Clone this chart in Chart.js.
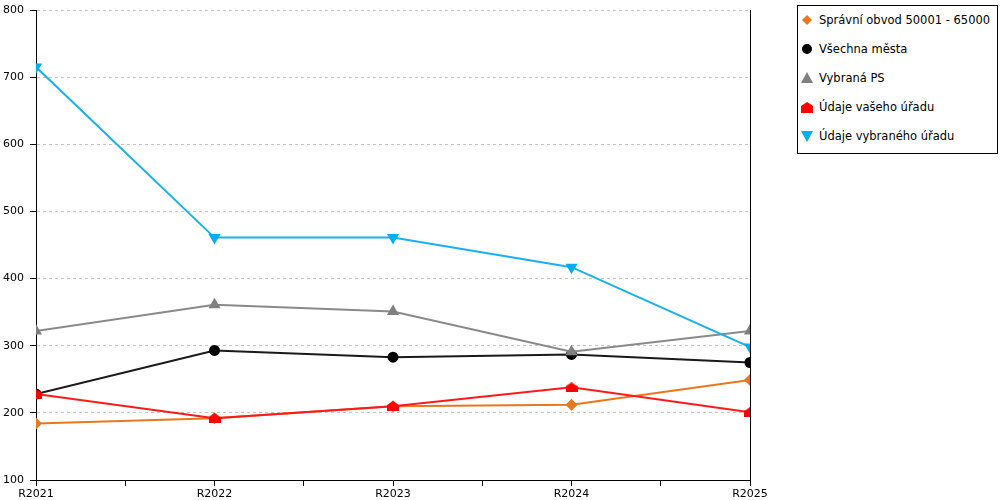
<!DOCTYPE html>
<html>
<head>
<meta charset="utf-8">
<script src="https://cdn.jsdelivr.net/npm/chart.js@4/dist/chart.umd.min.js"></script>
<style>
  body { margin: 0; background: #fff; font-family: "DejaVu Sans", Verdana, sans-serif; }
  #wrap { position: relative; width: 1000px; height: 500px; }
  #legend {
    position: absolute; left: 797px; top: 5px; width: 201px; height: 149px;
    border: 1px solid #000; box-sizing: border-box; background: #fff;
  }
  .item { position: absolute; left: 2px; height: 16px; display: flex; align-items: center;
          font-size: 11.5px; color: #000; white-space: nowrap; }
  .item svg { width: 14px; height: 14px; margin-right: 5px; }
</style>
</head>
<body>
<div id="wrap">
  <canvas id="lineChart"></canvas>
  <div id="legend"></div>
</div>
<script>
// ---- data ----
const categories = ['R2021', 'R2022', 'R2023', 'R2024', 'R2025'];
const seriesNames = ['Správní obvod 50001 - 65000', 'Všechna města', 'Vybraná PS', 'Údaje vašeho úřadu', 'Údaje vybraného úřadu'];
const obvodValues = [184, 192, 210, 212, 249];
const mestaValues = [228, 293, 283, 287, 275];
const psValues = [322, 361, 351, 291, 322];
const vasUradValues = [228, 192, 210, 238, 201];
const vybranyUradValues = [715, 461, 461, 417, 298];
const yTicks = [100, 200, 300, 400, 500, 600, 700, 800];

// ---- house marker (Údaje vašeho úřadu) ----
function houseMarker(color) {
  const c = document.createElement('canvas');
  c.width = 12; c.height = 10;
  const g = c.getContext('2d');
  g.fillStyle = color;
  g.beginPath();
  g.moveTo(6, 0); g.lineTo(12, 4); g.lineTo(12, 10); g.lineTo(0, 10); g.lineTo(0, 4);
  g.closePath(); g.fill();
  return c;
}

const styles = [
  { color: '#E8771E', point: 'rectRot', radius: 6, rot: 0 },
  { color: '#000000', point: 'circle', radius: 5.5, rot: 0 },
  { color: '#808080', point: 'triangle', radius: 7, rot: 0 },
  { color: '#FF0000', point: houseMarker('#FF0000'), radius: 6, rot: 0 },
  { color: '#00AEEF', point: 'triangle', radius: 7, rot: 180 },
];
const lineColors = ['#E8771E', '#1a1a1a', '#8a8a8a', '#FF1a1a', '#1AB0EC'];
const allValues = [obvodValues, mestaValues, psValues, vasUradValues, vybranyUradValues];

const datasets = allValues.map((vals, i) => ({
  label: seriesNames[i],
  data: vals.map((v, k) => ({ x: k, y: v })),
  borderColor: lineColors[i],
  backgroundColor: styles[i].color,
  pointBackgroundColor: styles[i].color,
  pointBorderColor: styles[i].color,
  pointBorderWidth: 0,
  pointStyle: styles[i].point,
  pointRadius: styles[i].radius,
  pointRotation: styles[i].rot,
  borderWidth: 2,
  tension: 0,
  order: allValues.length - i,
}));

// vertical axes: fixed width, no extra top/bottom padding from labels
function fitVertical(width) {
  return s => { s.width = width; s.paddingTop = 0; s.paddingBottom = 0; };
}

new Chart(document.getElementById('lineChart'), {
  type: 'line',
  data: { datasets },
  options: {
    responsive: true,
    maintainAspectRatio: false,
    animation: false,
    layout: { padding: { top: 10, right: 250, left: 0, bottom: 0 } },
    plugins: { legend: { display: false }, tooltip: { enabled: false } },
    scales: {
      x: {
        type: 'linear', min: 0, max: categories.length - 1,
        afterBuildTicks: s => { s.ticks = []; for (let v = 0; v <= categories.length - 1; v += 0.5) s.ticks.push({ value: v }); },
        afterFit: s => { s.height = 20; },
        ticks: {
          autoSkip: false, maxRotation: 0, padding: 2, color: '#000',
          font: { family: 'DejaVu Sans', size: 11 },
          callback: v => Number.isInteger(v) ? categories[v] : ''
        },
        grid: { drawOnChartArea: false, tickLength: 6, tickColor: '#000' },
        border: { color: '#000', width: 1 }
      },
      y: {
        min: 100, max: 800,
        afterBuildTicks: s => { s.ticks = yTicks.map(v => ({ value: v })); },
        afterFit: fitVertical(36),
        ticks: { color: '#000', padding: 6, font: { family: 'DejaVu Sans', size: 11 } },
        grid: { color: '#c4c4c4', tickLength: 6, tickColor: '#000' },
        border: { color: '#000', width: 1, dash: [3, 3] }
      },
      y2: {
        position: 'right', min: 100, max: 800,
        afterFit: fitVertical(0),
        ticks: { display: false },
        grid: { display: false },
        border: { color: '#000', width: 1 }
      }
    }
  }
});

// ---- legend (HTML) ----
function legendSvg(i) {
  const c = styles[i].color;
  switch (i) {
    case 0: return `<svg viewBox="0 0 14 14"><polygon points="7,2 12,7 7,12 2,7" fill="${c}"/></svg>`;
    case 1: return `<svg viewBox="0 0 14 14"><circle cx="7" cy="7" r="5" fill="${c}"/></svg>`;
    case 2: return `<svg viewBox="0 0 14 14"><polygon points="7,1 13,12 1,12" fill="${c}"/></svg>`;
    case 3: return `<svg viewBox="0 0 14 14"><polygon points="7,2 13,6 13,13 1,13 1,6" fill="${c}"/></svg>`;
    default: return `<svg viewBox="0 0 14 14"><polygon points="1,2 13,2 7,13" fill="${c}"/></svg>`;
  }
}
const legend = document.getElementById('legend');
seriesNames.forEach((name, i) => {
  const el = document.createElement('div');
  el.className = 'item';
  el.style.top = (6 + i * 29) + 'px';
  el.innerHTML = legendSvg(i) + '<span>' + name + '</span>';
  legend.appendChild(el);
});
</script>
</body>
</html>
